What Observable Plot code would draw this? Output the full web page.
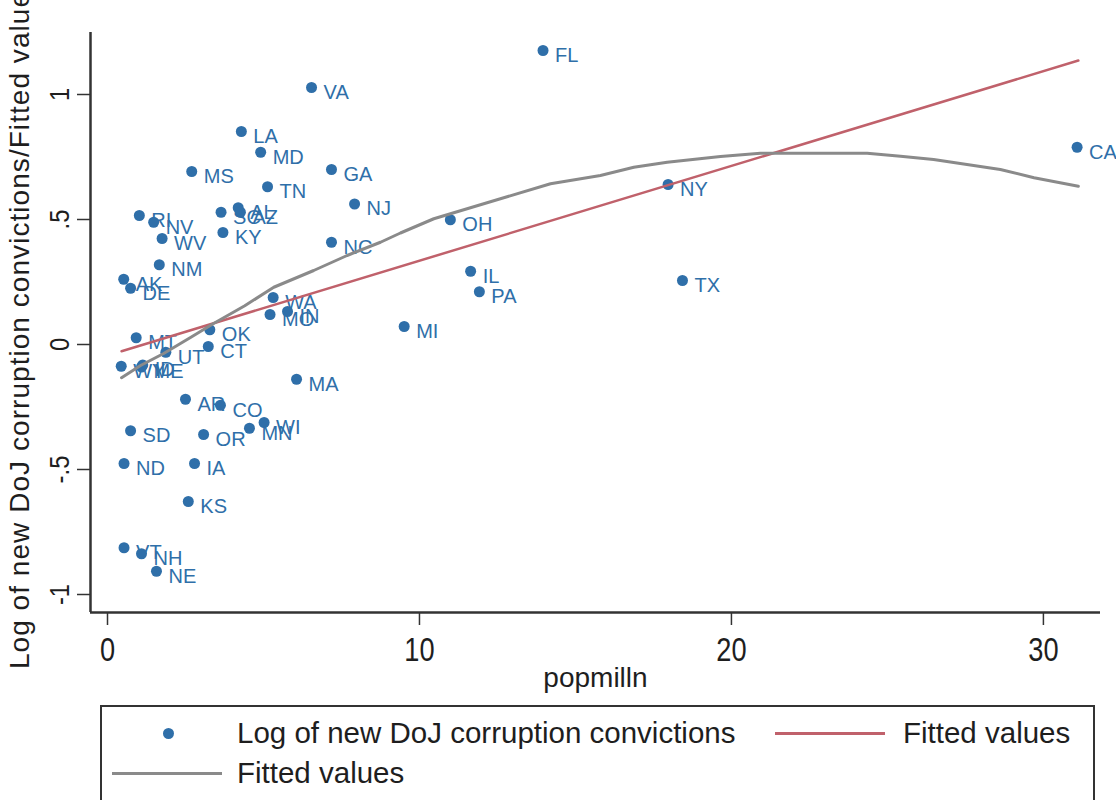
<!DOCTYPE html>
<html><head><meta charset="utf-8">
<script src="https://cdn.jsdelivr.net/npm/d3@7"></script>
<script src="https://cdn.jsdelivr.net/npm/@observablehq/plot@0.6"></script>
<style>
body{margin:0;background:#fff;}
#wrap{position:relative;width:1116px;height:800px;overflow:hidden;background:#fff;}
.sans{font-family:"Liberation Sans",Arial,sans-serif;color:#1e1e1e;}
#chart{position:absolute;left:0;top:0;}
#legbox{position:absolute;left:100px;top:705px;width:995px;height:140px;border:2px solid #333;box-sizing:border-box;}
.lt{position:absolute;font-size:29.5px;line-height:36px;height:36px;white-space:nowrap;}
.ln{position:absolute;}
.dt{position:absolute;border-radius:50%;}
</style>
</head><body>
<div id="wrap">
  <div id="chart"></div>
  <div id="legbox"></div>
  <div class="dt" style="left:162.5px;top:727.5px;width:11px;height:11px;background:#2f6fa9;"></div>
  <div class="lt sans" style="left:237px;top:715px;">Log of new DoJ corruption convictions</div>
  <div class="ln" style="left:775px;top:732px;width:110px;height:2.5px;background:#c0616b;"></div>
  <div class="lt sans" style="left:903px;top:715px;">Fitted values</div>
  <div class="ln" style="left:112px;top:771.5px;width:110px;height:3px;background:#8a8a8a;"></div>
  <div class="lt sans" style="left:237px;top:755px;">Fitted values</div>
</div>
<script>
// ---- data ----
const states = ["AK","AL","AZ","AR","CA","CO","CT","DE","FL","GA","IA","ID","IL","IN","KS","KY","LA","MA","MD","ME","MI","MN","MO","MS","MT","NC","ND","NE","NH","NJ","NM","NV","NY","OH","OK","OR","PA","RI","SC","SD","TN","TX","UT","VA","VT","WA","WI","WV","WY"];
const popmilln = [0.52,4.19,4.26,2.50,31.08,3.62,3.23,0.74,13.96,7.18,2.79,1.13,11.64,5.77,2.59,3.70,4.29,6.06,4.91,1.09,9.51,4.55,5.21,2.70,0.92,7.18,0.53,1.57,1.09,7.92,1.66,1.48,17.97,10.99,3.28,3.08,11.92,1.02,3.64,0.74,5.13,18.43,1.87,6.54,0.53,5.31,5.02,1.75,0.44];
const logconv = [0.261,0.547,0.529,-0.219,0.789,-0.243,-0.008,0.225,1.176,0.700,-0.476,-0.082,0.293,0.132,-0.628,0.448,0.852,-0.139,0.769,-0.090,0.072,-0.335,0.120,0.692,0.027,0.409,-0.476,-0.907,-0.837,0.562,0.319,0.489,0.640,0.499,0.059,-0.360,0.211,0.516,0.529,-0.345,0.631,0.256,-0.031,1.028,-0.813,0.188,-0.312,0.424,-0.087];

const fitX = [0.45, 31.12];
const fitY = [-0.027, 1.136];

const lowessX = [0.45,1.06,1.80,2.66,3.40,4.40,5.33,6.61,7.68,8.75,9.39,10.46,12.06,14.2,15.8,16.87,17.94,19.65,20.93,24.35,25.42,26.48,27.55,28.62,29.7,31.12];
const lowessY = [-0.133,-0.084,-0.036,0.028,0.084,0.155,0.229,0.296,0.356,0.409,0.446,0.503,0.563,0.643,0.676,0.709,0.729,0.752,0.765,0.765,0.753,0.740,0.720,0.700,0.667,0.633];

const xTicks = [0,10,20,30];
const xTickLabels = ["0","10","20","30"];
const yTicks = [-1,-0.5,0,0.5,1];
const yTickLabels = ["-1","-.5","0",".5","1"];

const xTitle = "popmilln";
const yTitle = "Log of new DoJ corruption convictions/Fitted values";

// ---- tables ----
const pts = states.map((s,i)=>({state:s, x:popmilln[i], y:logconv[i]}));
const fit = fitX.map((x,i)=>({x, y:fitY[i]}));
const low = lowessX.map((x,i)=>({x, y:lowessY[i]}));

const W = 1116, H = 700;
const xDom = [-0.545, 31.83], yDom = [-1.072, 1.248];
const SANS = '"Liberation Sans",Arial,sans-serif';
const blue = "#2f6fa9";

const chart = Plot.plot({
  width: W, height: H,
  marginLeft: 90, marginRight: 16, marginTop: 32, marginBottom: H - 612,
  x: {domain: xDom},
  y: {domain: yDom},
  style: {background: "white", fontFamily: SANS, color: "#1e1e1e"},
  marks: [
    Plot.axisY({ticks: yTicks, tickFormat: d => yTickLabels[yTicks.indexOf(d)], tickSize: 13, tickRotate: -90, tickPadding: 9, fontSize: 28, label: null, stroke: "#333", strokeWidth: 1.5}),
    Plot.axisX({ticks: xTicks, tickFormat: d => xTickLabels[xTicks.indexOf(d)], tickSize: 13, tickPadding: 11, fontSize: 34, label: null, stroke: "#333", strokeWidth: 1.5}),
    Plot.ruleX([xDom[0]], {stroke: "#333", strokeWidth: 2.5}),
    Plot.ruleY([yDom[0]], {stroke: "#333", strokeWidth: 2.5}),
    Plot.dot(pts, {x: "x", y: "y", r: 5.5, fill: blue, stroke: null}),
    Plot.text(pts, {x: "x", y: "y", text: "state", dx: 12, dy: 5, textAnchor: "start", fill: blue, fontSize: 20}),
    Plot.line(fit, {x: "x", y: "y", stroke: "#c0616b", strokeWidth: 2.5}),
    Plot.line(low, {x: "x", y: "y", stroke: "#8a8a8a", strokeWidth: 3}),
    Plot.text([yTitle], {frameAnchor: "left", dx: -70, rotate: -90, text: d => d, fontSize: 28, textAnchor: "middle", lineAnchor: "middle", fill: "#1e1e1e"}),
    Plot.text([xTitle], {frameAnchor: "bottom", dy: 66, text: d => d, fontSize: 28, textAnchor: "middle", lineAnchor: "middle", fill: "#1e1e1e"})
  ]
});

// condense axis tick labels horizontally (Stata-like narrow digits)
function condense(sel, s) {
  d3.select(chart).selectAll(sel).each(function() {
    const t = this.getAttribute("transform");
    if (t) this.setAttribute("transform", t + ` scale(${s},1)`);
    else {
      const x = +this.getAttribute("x") || 0, y = +this.getAttribute("y") || 0;
      this.removeAttribute("x"); this.removeAttribute("y");
      this.setAttribute("transform", `translate(${x},${y}) scale(${s},1)`);
    }
  });
}
condense('g[aria-label="x-axis tick label"] text', 0.8);
condense('g[aria-label="y-axis tick label"] text', 0.85);
// Stata-like wide spacing on the y title
d3.select(chart).selectAll("text").filter(function() { return this.textContent === yTitle; })
  .style("letter-spacing", "1.05px");

document.getElementById("chart").appendChild(chart);
</script>
</body></html>
